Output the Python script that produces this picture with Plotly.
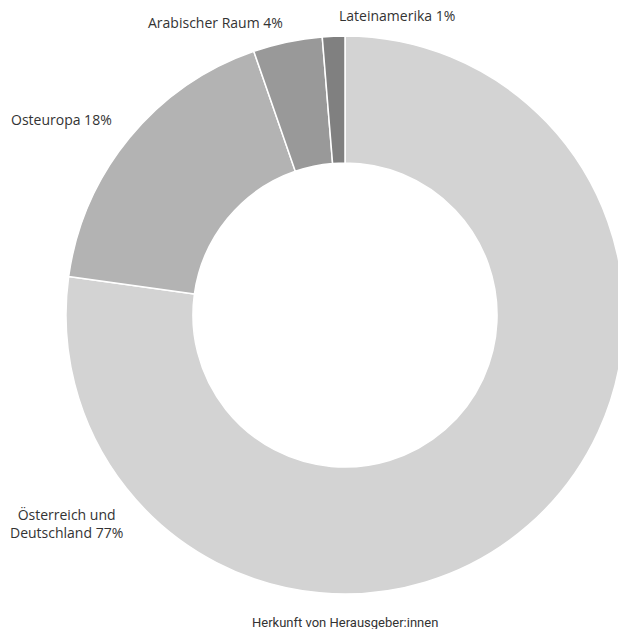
import plotly.graph_objects as go

# ---- data ----
categories = ["Österreich und Deutschland", "Osteuropa", "Arabischer Raum", "Lateinamerika"]
values = [77.2, 17.5, 4.0, 1.3]
pct_labels = ["77%", "18%", "4%", "1%"]
label_names = ["Österreich und<br>Deutschland", "Osteuropa", "Arabischer Raum", "Lateinamerika"]
colors = ["#d3d3d3", "#b3b3b3", "#999999", "#808080"]
title_text = "Herkunft von Herausgeber:innen"

W, H = 690, 629

fig = go.Figure(go.Pie(
    labels=categories,
    values=values,
    sort=False,
    direction="clockwise",
    rotation=0,
    hole=0.545,
    marker=dict(colors=colors, line=dict(color="white", width=1.5)),
    textinfo="none",
    hoverinfo="label+percent",
    domain=dict(x=[0, 1], y=[(H - 594) / H, (H - 36) / H]),
    showlegend=False,
))

# label placement (pixel centres in the page)
label_pos = [(66, 523), (61, 119), (215, 23), (397, 15)]
annotations = []
for name, pct, (px, py) in zip(label_names, pct_labels, label_pos):
    annotations.append(dict(
        text=f"{name} {pct}", x=px / W, y=1 - py / H, xref="paper", yref="paper",
        xanchor="center", yanchor="middle", showarrow=False,
        font=dict(family="Open Sans", size=14, color="#333333"),
    ))
annotations.append(dict(
    text=title_text, x=345 / W, y=1 - 622 / H, xref="paper", yref="paper",
    xanchor="center", yanchor="middle", showarrow=False,
    font=dict(family="Roboto", size=13, color="#333333"),
))

fig.update_layout(
    width=W, height=H,
    margin=dict(l=0, r=0, t=0, b=0),
    paper_bgcolor="white", plot_bgcolor="white",
    annotations=annotations,
)

fig.write_html(
    "out.html",
    config={"displayModeBar": False},
    post_script="document.body.style.margin='0';document.body.style.overflow='hidden';document.documentElement.style.overflow='hidden';",
)
